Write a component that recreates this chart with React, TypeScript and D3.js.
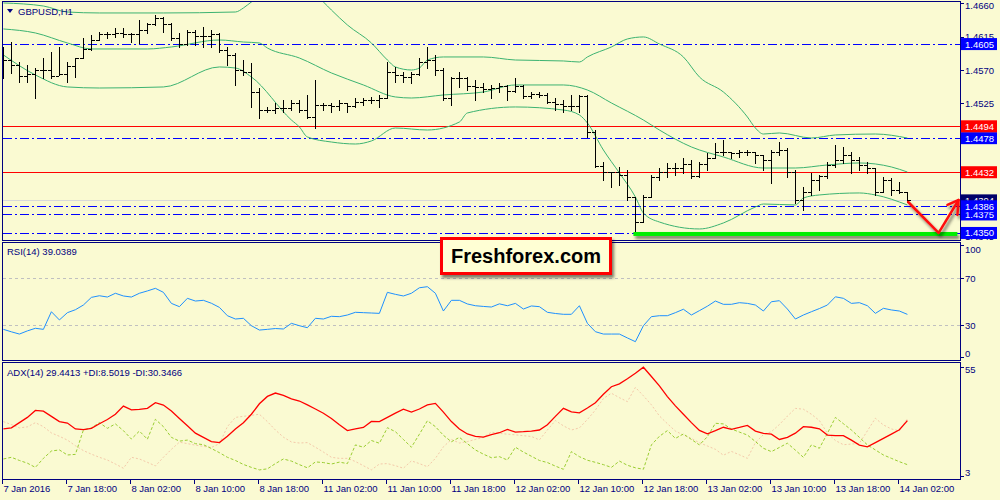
import React, { useEffect } from 'react';
import * as d3 from 'd3';

const symbolTitle = 'GBPUSD,H1';
const rsiTitle = 'RSI(14) 39.0389';
const adxTitle = 'ADX(14) 29.4413 +DI:8.5019 -DI:30.3466';
const watermark = 'Freshforex.com';

const timeLabels = ['7 Jan 2016', '7 Jan 18:00', '8 Jan 02:00', '8 Jan 10:00', '8 Jan 18:00', '11 Jan 02:00', '11 Jan 10:00', '11 Jan 18:00', '12 Jan 02:00', '12 Jan 10:00', '12 Jan 18:00', '13 Jan 02:00', '13 Jan 10:00', '13 Jan 18:00', '14 Jan 02:00'];
const timeLabelBars = [0, 8, 16, 24, 32, 40, 48, 56, 64, 72, 80, 88, 96, 104, 112];

const closes = [
  1.45835, 1.45768, 1.45619, 1.45646, 1.457, 1.457, 1.45619, 1.45646, 1.45754, 1.45862,
  1.45984, 1.46105, 1.46186, 1.46186, 1.462, 1.46186, 1.46186, 1.4624, 1.46321, 1.46402,
  1.46321, 1.46132, 1.46051, 1.46213, 1.46159, 1.46159, 1.46186, 1.4597, 1.45903, 1.457,
  1.45673, 1.45403, 1.4516, 1.4516, 1.45187, 1.45187, 1.45255, 1.4516, 1.45066, 1.45228,
  1.45228, 1.45214, 1.45255, 1.45214, 1.45268, 1.45295, 1.45295, 1.45322, 1.45673, 1.45633,
  1.45606, 1.45646, 1.45808, 1.45835, 1.457, 1.45322, 1.45592, 1.45592, 1.45484, 1.45471,
  1.45444, 1.45457, 1.45484, 1.45417, 1.45484, 1.45349, 1.45376, 1.45363, 1.45268, 1.45241,
  1.45214, 1.45214, 1.45349, 1.44863, 1.44404, 1.44323, 1.44323, 1.44283, 1.43986, 1.43648,
  1.43986, 1.44256, 1.44323, 1.44377, 1.44377, 1.44431, 1.44269, 1.44431, 1.44512, 1.44593,
  1.44593, 1.4458, 1.44593, 1.44593, 1.44553, 1.44485, 1.44593, 1.4462, 1.44323, 1.43945,
  1.44053, 1.44215, 1.44269, 1.44418, 1.44485, 1.44553, 1.44485, 1.44418, 1.44377, 1.44053,
  1.44215, 1.4408, 1.44053, 1.4394,
];
const opens = [
  1.45903, 1.45835, 1.45768, 1.45619, 1.45646, 1.457, 1.457, 1.45619, 1.45646, 1.45754,
  1.45862, 1.45984, 1.46105, 1.46186, 1.46186, 1.462, 1.46186, 1.46186, 1.4624, 1.46321,
  1.46402, 1.46321, 1.46132, 1.46051, 1.46213, 1.46159, 1.46159, 1.46186, 1.4597, 1.45903,
  1.457, 1.45673, 1.45403, 1.4516, 1.4516, 1.45187, 1.45187, 1.45255, 1.4516, 1.45066,
  1.45228, 1.45228, 1.45214, 1.45255, 1.45214, 1.45268, 1.45295, 1.45295, 1.45322, 1.45673,
  1.45633, 1.45606, 1.45646, 1.45808, 1.45835, 1.457, 1.45322, 1.45592, 1.45592, 1.45484,
  1.45471, 1.45444, 1.45457, 1.45484, 1.45417, 1.45484, 1.45349, 1.45376, 1.45363, 1.45268,
  1.45241, 1.45214, 1.45214, 1.45349, 1.44863, 1.44404, 1.44323, 1.44323, 1.44283, 1.43986,
  1.43648, 1.43986, 1.44256, 1.44323, 1.44377, 1.44377, 1.44431, 1.44269, 1.44431, 1.44512,
  1.44593, 1.44593, 1.4458, 1.44593, 1.44593, 1.44553, 1.44485, 1.44593, 1.4462, 1.44323,
  1.43945, 1.44053, 1.44215, 1.44269, 1.44418, 1.44485, 1.44553, 1.44485, 1.44418, 1.44377,
  1.44053, 1.44215, 1.4408, 1.44053,
];
const highs = [
  1.46011, 1.46078, 1.45808, 1.45768, 1.45727, 1.45862, 1.45943, 1.46011, 1.45808, 1.45862,
  1.46132, 1.46173, 1.46213, 1.46213, 1.46267, 1.46267, 1.462, 1.46375, 1.46335, 1.46443,
  1.46416, 1.46335, 1.462, 1.4624, 1.4624, 1.46281, 1.4624, 1.462, 1.46011, 1.4593,
  1.45835, 1.45795, 1.45457, 1.45201, 1.45255, 1.45295, 1.45295, 1.45295, 1.45363, 1.45565,
  1.45255, 1.45255, 1.45295, 1.45255, 1.45322, 1.45322, 1.45336, 1.45363, 1.45808, 1.45741,
  1.45673, 1.45673, 1.45862, 1.46011, 1.45903, 1.45727, 1.45606, 1.45673, 1.45606, 1.45565,
  1.45525, 1.45498, 1.45525, 1.45498, 1.45592, 1.45498, 1.45403, 1.45403, 1.4539, 1.45322,
  1.45295, 1.45363, 1.45363, 1.45363, 1.4489, 1.44458, 1.44323, 1.44391, 1.4435, 1.43986,
  1.44013, 1.44283, 1.44377, 1.44445, 1.44445, 1.44512, 1.44485, 1.44458, 1.4458, 1.44715,
  1.44755, 1.44593, 1.4462, 1.4462, 1.44593, 1.44553, 1.4462, 1.44728, 1.44647, 1.4435,
  1.44121, 1.4431, 1.44283, 1.44458, 1.44688, 1.44661, 1.44593, 1.44526, 1.44458, 1.44377,
  1.44256, 1.44242, 1.44188, 1.44053,
];
const lows = [
  1.45592, 1.4566, 1.45538, 1.45538, 1.45322, 1.45592, 1.45592, 1.45633, 1.45538, 1.45606,
  1.45862, 1.4597, 1.46105, 1.46132, 1.46146, 1.46146, 1.46078, 1.46065, 1.462, 1.46308,
  1.46213, 1.46105, 1.46011, 1.46038, 1.46038, 1.46011, 1.46011, 1.45943, 1.45768, 1.45498,
  1.45633, 1.45201, 1.45052, 1.45133, 1.4512, 1.45133, 1.4516, 1.45133, 1.45052, 1.44917,
  1.4516, 1.45133, 1.4516, 1.45133, 1.45201, 1.45228, 1.45255, 1.45201, 1.45322, 1.45538,
  1.45538, 1.45525, 1.45633, 1.45727, 1.45633, 1.45295, 1.45228, 1.45471, 1.4543, 1.45295,
  1.45403, 1.45322, 1.45403, 1.45295, 1.45403, 1.45322, 1.45322, 1.45336, 1.45255, 1.4516,
  1.45133, 1.4516, 1.45133, 1.44796, 1.44391, 1.44215, 1.44121, 1.44148, 1.43945, 1.435,
  1.43648, 1.43986, 1.44215, 1.44256, 1.44283, 1.4431, 1.44242, 1.44256, 1.4435, 1.44512,
  1.44553, 1.44512, 1.44526, 1.44553, 1.44445, 1.4435, 1.44175, 1.44553, 1.44256, 1.43905,
  1.4381, 1.44013, 1.4408, 1.44242, 1.44391, 1.44445, 1.4431, 1.4435, 1.4431, 1.44013,
  1.44053, 1.44013, 1.4404, 1.43918,
];

// Bollinger bands: [bar index, price]
const bbUpper: [number, number][] = [
  [0, 1.46605], [5, 1.46564], [8, 1.46483], [12, 1.4647], [20, 1.4647], [29, 1.46483], [30, 1.46537],
  [31, 1.46618], [33, 1.46713], [35, 1.46807], [37, 1.46794], [39, 1.46713], [40, 1.46618], [41, 1.4651],
  [43, 1.46308], [46, 1.46065], [48, 1.45835], [49, 1.45741], [51, 1.457], [52, 1.45727], [53, 1.45835],
  [55, 1.45876], [60, 1.45876], [64, 1.45835], [70, 1.45822], [72, 1.45808], [73, 1.45876], [76, 1.46011],
  [78, 1.46119], [80, 1.46146], [82, 1.46051], [85, 1.45876], [87, 1.45606], [90, 1.45403], [93, 1.45066],
  [94, 1.44917], [95, 1.44836], [97, 1.4485], [101, 1.44782], [104, 1.44823], [109, 1.44836], [113, 1.44782],
];
const bbMiddle: [number, number][] = [
  [0, 1.46254], [4, 1.462], [8, 1.46065], [11, 1.45984], [18, 1.45984], [21, 1.46011], [27, 1.46105],
  [30, 1.46078], [32, 1.46065], [33, 1.45997], [37, 1.45862], [41, 1.4566], [45, 1.45498], [49, 1.45336],
  [51, 1.45322], [55, 1.45363], [60, 1.45403], [64, 1.45498], [70, 1.45498], [73, 1.4543], [76, 1.45255],
  [80, 1.45025], [82, 1.4489], [86, 1.44661], [90, 1.44526], [95, 1.44377], [99, 1.44377], [103, 1.44418],
  [107, 1.44445], [111, 1.44391], [113, 1.44323],
];
const bbLower: [number, number][] = [
  [0, 1.45903], [4, 1.45633], [8, 1.45471], [12, 1.45457], [20, 1.45471], [27, 1.45741], [29, 1.45727],
  [31, 1.45606], [36, 1.45025], [37, 1.44931], [38, 1.44796], [41, 1.44728], [44, 1.44701], [46, 1.44742],
  [49, 1.44917], [53, 1.4489], [57, 1.44998], [58, 1.4512], [64, 1.45201], [70, 1.4516], [72, 1.45093],
  [73, 1.44985], [75, 1.4462], [77, 1.4431], [79, 1.43986], [80, 1.4377], [82, 1.43648], [87, 1.43554],
  [90, 1.43635], [94, 1.43851], [95, 1.43891], [99, 1.43878], [100, 1.43972], [102, 1.44013], [107, 1.4404],
  [109, 1.44013], [113, 1.43878],
];

const priceTicks = [1.466, 1.4615, 1.457, 1.4525, 1.448, 1.4435, 1.439, 1.4345];
const blueLevels = [1.4605, 1.4478, 1.4375, 1.435, 1.4386];
const redLevels = [1.4494, 1.4432];
const currentPrice = 1.4394;
const supportPrice = 1.435;
const supportBars = [78.75, 119.25];
const arrowShaft: [number, number][] = [[113.1, 1.43918], [116.9, 1.435], [119.4, 1.43945]];
const arrowHead: [number, number][] = [[118.0, 1.43878], [119.4, 1.43945], [119.25, 1.43743]];

const rsiValues = [
  26.3, 24.2, 22.3, 25, 27.2, 26.3, 41.3, 34.3, 40.5, 43,
  47, 53.5, 54.9, 53.8, 57, 54.7, 53.8, 57, 59, 61.2,
  57.8, 48.4, 45.6, 52.7, 50.4, 51, 48.5, 45, 37.9, 35.1,
  35.7, 29.4, 25.7, 26.3, 27, 26.6, 31.4, 29.4, 27.7, 35.7,
  35.1, 37.4, 37.1, 38.5, 40.8, 40.5, 40.2, 39.9, 57.8, 56.1,
  54.7, 57, 61.7, 62.6, 57, 41.9, 51, 51, 47.9, 46.4,
  45.8, 45.3, 48, 46.4, 48.4, 43.6, 46.2, 45.6, 40.8, 39.8,
  39.1, 39.1, 46.4, 31.4, 24.3, 22.3, 22.3, 22.3, 19, 15.8,
  29.4, 37.1, 37.9, 37.9, 40.5, 43.4, 38.5, 42.2, 46, 50.4,
  47.6, 47.6, 49, 48.4, 47, 41.9, 49.8, 50.7, 43.6, 35.1,
  38.5, 41.3, 44, 47, 54, 52.7, 48.4, 49, 46.4, 39.9,
  44.2, 42.8, 41.9, 39.04,
];
const rsiLevels = [70, 30];
const rsiAxisLabels = [100, 70, 30, 0];

const adxValues = [
  25.5, 26, 28.5, 31, 34.3, 34, 31.5, 29, 28.3, 25.5,
  25.2, 25.8, 28, 30, 32.5, 36.4, 34.6, 34.8, 35.3, 38,
  36.9, 34, 30.5, 27, 23.5, 21.5, 19.5, 19, 22, 25.5,
  28.5, 32.5, 37.5, 41, 42.6, 41.5, 39.8, 38.8, 37, 35,
  33, 30.5, 27.5, 24.7, 25.5, 26.2, 29.1, 29, 31, 33,
  34.9, 33.5, 35, 37, 37.7, 33.5, 29, 25.5, 23.1, 22,
  21.6, 22.8, 23.7, 25.3, 24, 24.2, 24.5, 25, 27.5, 31.5,
  35.3, 33.6, 33.2, 35.5, 38, 42, 45.6, 47, 49.4, 52,
  54.9, 50.5, 46, 40.9, 36.5, 32.5, 28.5, 24.8, 23.2, 24.7,
  26.3, 25.3, 26.2, 27.2, 24.5, 23.4, 23, 20.5, 21.5, 23.5,
  26.6, 26.3, 25.6, 22.6, 22.3, 22.3, 20.2, 17.8, 17, 19,
  21, 23, 25.1, 29.44,
];
const plusDI = [
  11.2, 12, 10.5, 9.2, 7.2, 11.5, 15, 15.5, 13.1, 13.4,
  25, 26, 28.5, 25.8, 27.9, 24.7, 20.7, 24.5, 20.6, 30.1,
  26.6, 21.5, 19.7, 20.2, 18.5, 18, 16.2, 14.2, 12, 10.5,
  8.6, 7.2, 6, 6.5, 9, 11.2, 10.2, 8.5, 7, 9.8,
  9.5, 8.8, 9.7, 9, 17.9, 16.8, 20, 18.7, 26.1, 24.2,
  20.5, 16.8, 23, 29.4, 26.6, 22.5, 19.4, 21.5, 18.5, 15.5,
  13.5, 11.8, 12.3, 10.7, 16.8, 14.5, 12.5, 10.5, 9.5, 7.8,
  6.3, 14.7, 12.3, 10.6, 9.6, 8.5, 7.2, 10.2, 8.2, 7,
  6.3, 17.9, 22, 24.7, 21, 23.1, 20.5, 17.9, 21.8, 28.2,
  27.9, 25.5, 24, 22.6, 19.5, 16.3, 14.7, 16.7, 18.7, 15.4,
  12, 17.9, 16.3, 23.4, 31, 28, 25, 21.5, 17.9, 15.5,
  13.1, 11.5, 9.9, 8.5,
];
const minusDI = [
  29, 27.6, 26, 26.5, 28.5, 26.6, 23.6, 22, 20.2, 17.5,
  15.2, 13.5, 12, 10.7, 8.8, 6.8, 12, 11.2, 9.6, 7.9,
  12, 15.8, 19.2, 18.5, 17.8, 17.2, 16.7, 18.5, 26.6, 31,
  31.5, 32, 32.5, 29, 25, 21.6, 19.3, 18.8, 19, 16.8,
  14.5, 12, 11.5, 11.5, 10, 8, 6, 8.8, 9, 8,
  6.8, 10.3, 9, 7.5, 11.5, 17, 20.5, 18.8, 19.5, 20.5,
  21.5, 24, 23.4, 23, 22.7, 22.3, 21.9, 20.3, 25, 29.5,
  27, 25, 26, 30, 34.5, 40, 42.5, 40.4, 38.5, 45.3,
  41.3, 37, 31.7, 28, 24.5, 22.6, 21, 18.9, 17.4, 15.8,
  13, 14.8, 13.2, 11.5, 19, 22.8, 24.2, 27.6, 31.6, 35.3,
  34.9, 32.5, 29.5, 23.5, 20, 18, 18.3, 18.7, 24.6, 30.6,
  27.4, 25.5, 24.6, 30.35,
];
const adxAxisLabels = [55, 3];

const BG = '#fafad2';
const NAVY = '#000080';
const FONT = "'Liberation Sans', Arial, sans-serif";

export default function App() {
  useEffect(() => {
    document.body.style.margin = '0';
  }, []);

  const left = 3;
  const right = 960;
  const main = { top: 2, bottom: 240 };
  const rsiP = { top: 242, bottom: 360 };
  const adxP = { top: 362, bottom: 479 };

  const x = d3.scaleLinear().domain([0, 113]).range([3.4, 907.4]);
  const yP = d3.scaleLinear().domain([1.43405, 1.46618]).range([main.bottom, main.top]);
  const yR = d3.scaleLinear().domain([0, 100]).range([360.25, 242.75]);
  const yA = d3.scaleLinear().domain([3, 55]).range([476.2, 367]);

  const bandLine = d3
    .line<[number, number]>()
    .x((d) => x(d[0]))
    .y((d) => yP(d[1]))
    .curve(d3.curveMonotoneX);
  const rsiLine = d3
    .line<number>()
    .x((_, i) => x(i))
    .y((d) => yR(d));
  const adxLine = d3
    .line<number>()
    .x((_, i) => x(i))
    .y((d) => yA(d));
  const ptLine = d3
    .line<[number, number]>()
    .x((d) => x(d[0]))
    .y((d) => yP(d[1]));

  const clampLabel = (y: number, p: { top: number; bottom: number }, m = 7) =>
    Math.min(Math.max(y, p.top + m), p.bottom - m);

  const boxLabel = (price: number, fill: string, key: string) => {
    const yc = yP(price);
    return (
      <g key={key}>
        <rect x={961} y={yc - 6} width={36} height={12} fill={fill} />
        <text x={965} y={yc + 3.5} fill="#fff" fontSize={9.5}>
          {price.toFixed(4)}
        </text>
      </g>
    );
  };

  const supY = yP(supportPrice);

  return (
    <svg
      width={1000}
      height={500}
      style={{ display: 'block', position: 'absolute', left: 0, top: 0 }}
      fontFamily={FONT}
    >
      <defs>
        <clipPath id="clipMain">
          <rect x={left} y={main.top} width={right - left} height={main.bottom - main.top} />
        </clipPath>
        <clipPath id="clipRsi">
          <rect x={left} y={rsiP.top} width={right - left} height={rsiP.bottom - rsiP.top} />
        </clipPath>
        <clipPath id="clipAdx">
          <rect x={left} y={adxP.top} width={right - left} height={adxP.bottom - adxP.top} />
        </clipPath>
        <filter id="shadow" filterUnits="userSpaceOnUse" x={0} y={0} width={1000} height={500}>
          <feDropShadow dx="2" dy="3" stdDeviation="1.5" floodColor="#000" floodOpacity="0.5" />
        </filter>
      </defs>

      <rect x={0} y={0} width={1000} height={500} fill={BG} />

      {/* ===== main price panel ===== */}
      <g clipPath="url(#clipMain)">
        <line x1={left} x2={right} y1={Math.round(yP(currentPrice)) + 0.5} y2={Math.round(yP(currentPrice)) + 0.5} stroke="#d9d9d9" strokeWidth={1} />
        {redLevels.map((p) => (
          <line key={'r' + p} x1={left} x2={right} y1={Math.round(yP(p)) + 0.5} y2={Math.round(yP(p)) + 0.5} stroke="#ff0000" strokeWidth={1} />
        ))}
        {blueLevels.map((p) => (
          <line
            key={'b' + p}
            x1={left}
            x2={right}
            y1={Math.round(yP(p)) + 0.5}
            y2={Math.round(yP(p)) + 0.5}
            stroke="#0000ff"
            strokeWidth={1.2}
            strokeDasharray="9,3,2,3"
          />
        ))}
        {[bbUpper, bbMiddle, bbLower].map((b, k) => (
          <path key={'bb' + k} d={bandLine(b) || ''} fill="none" stroke="#3cb371" strokeWidth={1} />
        ))}
        <g fill="#000" shapeRendering="crispEdges">
          {closes.map((c, i) => {
            const bx = Math.round(x(i));
            const yH = Math.round(yP(highs[i]));
            const yL = Math.round(yP(lows[i]));
            const yO = Math.round(yP(opens[i]));
            const yC = Math.round(yP(c));
            return (
              <g key={'bar' + i}>
                <rect x={bx} y={yH} width={1.4} height={Math.max(1, yL - yH + 1)} />
                <rect x={bx - 3} y={yO} width={3} height={1.4} />
                <rect x={bx + 1} y={yC} width={3} height={1.4} />
              </g>
            );
          })}
        </g>
      </g>

      {/* support zone and drawn arrow */}
      <rect
        x={x(supportBars[0])}
        y={supY - 1}
        width={x(supportBars[1]) - x(supportBars[0])}
        height={4}
        fill="#00ee00"
        filter="url(#shadow)"
      />
      <g filter="url(#shadow)" fill="none" stroke="#ff1010" strokeWidth={2.5} strokeLinejoin="round" strokeLinecap="round">
        <path d={ptLine(arrowShaft) || ''} />
        <path d={ptLine(arrowHead) || ''} />
      </g>

      {/* ===== RSI panel ===== */}
      <g clipPath="url(#clipRsi)">
        {rsiLevels.map((v) => (
          <line key={'rl' + v} x1={left} x2={right} y1={Math.round(yR(v)) + 0.5} y2={Math.round(yR(v)) + 0.5} stroke="#c0c0c0" strokeDasharray="3,3" />
        ))}
        <path d={rsiLine(rsiValues) || ''} fill="none" stroke="#1e90ff" strokeWidth={1} />
      </g>

      {/* ===== ADX panel ===== */}
      <g clipPath="url(#clipAdx)">
        <path d={adxLine(minusDI) || ''} fill="none" stroke="#f4c9aa" strokeWidth={1} strokeDasharray="2,2" />
        <path d={adxLine(plusDI) || ''} fill="none" stroke="#9acd32" strokeWidth={1} strokeDasharray="3,2" />
        <path d={adxLine(adxValues) || ''} fill="none" stroke="#ff0000" strokeWidth={1.3} />
      </g>

      {/* ===== frames ===== */}
      <g fill="none" stroke={NAVY} strokeWidth={1} shapeRendering="crispEdges">
        <rect x={left - 0.5} y={main.top - 0.5} width={right - left + 1} height={main.bottom - main.top + 1} />
        <rect x={left - 0.5} y={rsiP.top + 0.5} width={right - left + 1} height={rsiP.bottom - rsiP.top} />
        <rect x={left - 0.5} y={adxP.top + 0.5} width={right - left + 1} height={adxP.bottom - adxP.top} />
      </g>

      {/* price axis */}
      <g fontSize={9.5} fill={NAVY}>
        {priceTicks.map((p) => {
          const yc = Math.max(yP(p), main.top + 3.5);
          return (
            <g key={'pt' + p}>
              <line x1={right} x2={right + 4} y1={Math.round(yP(p)) + 0.5} y2={Math.round(yP(p)) + 0.5} stroke={NAVY} />
              <text x={965} y={yc + 3.5}>
                {p.toFixed(4)}
              </text>
            </g>
          );
        })}
      </g>
      {boxLabel(currentPrice, '#00006a', 'cur')}
      {blueLevels.map((p) => boxLabel(p, '#0000ff', 'bl' + p))}
      {redLevels.map((p) => boxLabel(p, '#ff0000', 'rl' + p))}

      {/* RSI / ADX axes */}
      <g fontSize={9.5} fill={NAVY}>
        {rsiAxisLabels.map((v) => (
          <g key={'ra' + v}>
            <line x1={right} x2={right + 4} y1={Math.round(clampLabel(yR(v), rsiP, 3)) + 0.5} y2={Math.round(clampLabel(yR(v), rsiP, 3)) + 0.5} stroke={NAVY} />
            <text x={965} y={clampLabel(yR(v), rsiP) + 3.5}>
              {v}
            </text>
          </g>
        ))}
        {adxAxisLabels.map((v) => (
          <g key={'aa' + v}>
            <line x1={right} x2={right + 4} y1={Math.round(clampLabel(yA(v), adxP, 3)) + 0.5} y2={Math.round(clampLabel(yA(v), adxP, 3)) + 0.5} stroke={NAVY} />
            <text x={965} y={clampLabel(yA(v), adxP) + 3.5}>
              {v}
            </text>
          </g>
        ))}
      </g>

      {/* time axis */}
      <g fontSize={9.5} fill={NAVY}>
        {timeLabelBars.map((b, k) => (
          <g key={'tl' + b}>
            <line x1={Math.round(x(b)) - 0.5} x2={Math.round(x(b)) - 0.5} y1={adxP.bottom} y2={adxP.bottom + 5} stroke={NAVY} />
            <text x={x(b)} y={492}>
              {timeLabels[k]}
            </text>
          </g>
        ))}
      </g>

      {/* titles */}
      <path d="M7,9 L13,9 L10,13 Z" fill={NAVY} />
      <text x={18} y={14.5} fontSize={9.5} fill={NAVY}>
        {symbolTitle}
      </text>
      <text x={7} y={255} fontSize={9.5} fill={NAVY}>
        {rsiTitle}
      </text>
      <text x={7} y={375.5} fontSize={9.5} fill={NAVY}>
        {adxTitle}
      </text>

      {/* watermark */}
      <g>
        <rect x={441.5} y={238.5} width={169} height={35} fill="#ffffd4" stroke="#ff0000" strokeWidth={3} filter="url(#shadow)" />
        <text x={526} y={263} textAnchor="middle" fontSize={20} fontWeight="bold" fill="#000">
          {watermark}
        </text>
      </g>
    </svg>
  );
}
